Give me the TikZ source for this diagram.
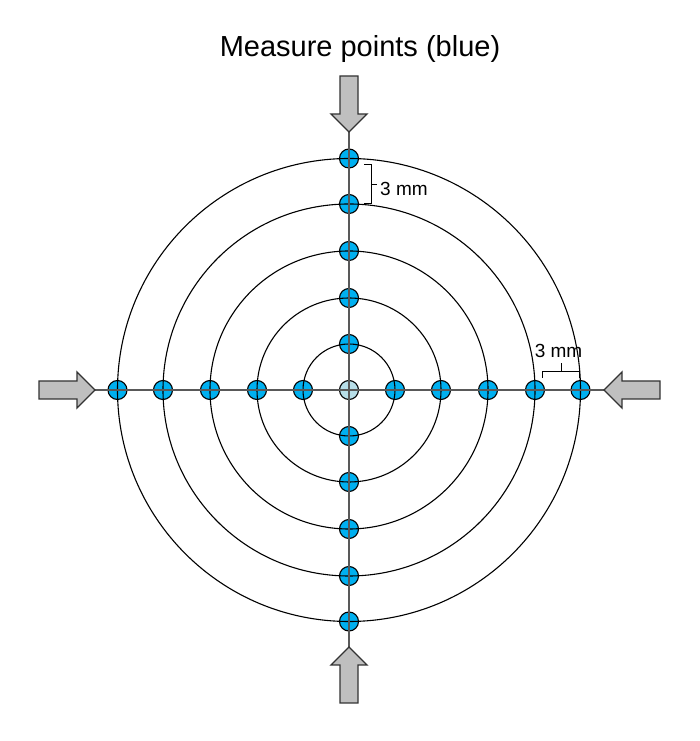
\documentclass[tikz,border=0pt]{standalone}
\usepackage{fontspec}
\setmainfont{Liberation Sans}
\definecolor{dotblue}{RGB}{0,176,240}
\definecolor{hubblue}{RGB}{183,222,232}
\definecolor{arrowgray}{RGB}{191,191,191}
\tikzset{%
  measure/.style  = {circle, draw, fill=dotblue, line width=1.1pt,%
                     inner sep=0pt, minimum size=19pt},%
  hub/.style      = {measure, fill=hubblue},%
  ring/.style     = {draw, line width=1.1pt},%
  axis/.style     = {draw=black!65, line width=1.4pt},%
  bracket/.style  = {draw, line width=0.9pt},%
  gaplabel/.style = {font=\fontsize{19}{22}\selectfont, inner sep=0pt},%
  push/.style     = {draw=black!80, fill=arrowgray, line width=1.3pt},%
  pics/pusher/.style = {code={%
    \draw[push] (0,0) -- (-18,18) -- (-18,9) -- (-56,9) -- (-56,-9)
      -- (-18,-9) -- (-18,-18) -- cycle;}}%
}

\begin{document}
\begin{tikzpicture}[x=1pt,y=1pt]
	\useasboundingbox (0,0) rectangle (700,741);
	\node[font=\fontsize{29}{34}\selectfont, anchor=base] (title) at (360,684) {Measure points (blue)};
	% measure points
	\node[hub] (hub) at (349,351) {};
	\foreach \r [count=\i] in {46,92,139,186,231.5} {
		\node[measure] (e\i) at (349+\r,351) {};
		\node[measure] (w\i) at (349-\r,351) {};
		\node[measure] (n\i) at (349,351+\r) {};
		\node[measure] (s\i) at (349,351-\r) {};
	}
	% rings and axes
	\foreach \r in {46,92,139,186,231.5}
		\draw[ring] (hub) circle[radius=\r];
	\coordinate (tipN) at (349,609);
	\coordinate (tipS) at (349,94);
	\coordinate (tipW) at (95,351);
	\coordinate (tipE) at (604,351);
	\draw[axis] (tipN) -- (tipS);
	\draw[axis] (tipW) -- (tipE);
	% pushing arrows
	\pic[rotate=-90] at (tipN) {pusher};
	\pic[rotate=90]  at (tipS) {pusher};
	\pic             at (tipW) {pusher};
	\pic[rotate=180] at (tipE) {pusher};
	% spacing marks
	\draw[bracket] (364,577) -- (371,577) -- (371,538) -- (364,538)
		(371,557) -- (377,557);
	\node[gaplabel, anchor=west] (gapN) at (380,552.5) {3 mm};
	\draw[bracket] (542,363) -- (542,370) -- (579,370) -- (579,363)
		(561,370) -- (561,378);
	\node[gaplabel] (gapE) at (558.5,390.5) {3 mm};
\end{tikzpicture}
\end{document}
